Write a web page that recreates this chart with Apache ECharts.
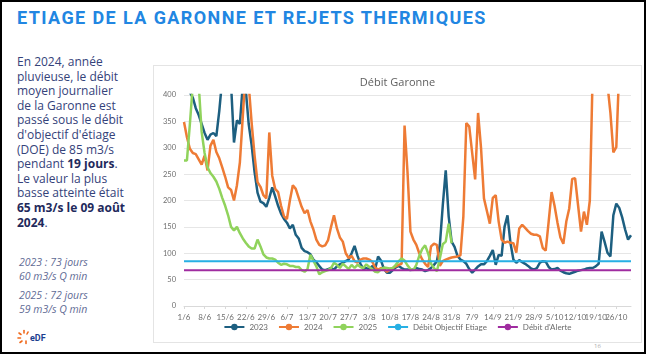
<!DOCTYPE html>
<html>
<head>
<meta charset="utf-8">
<script src="https://cdn.jsdelivr.net/npm/echarts@6/dist/echarts.min.js"></script>
<style>
  html, body { margin: 0; padding: 0; background: #fff; }
  #page { position: relative; width: 646px; height: 354px; box-sizing: border-box; border: 2px solid #000; overflow: hidden; font-family: "Open Sans", sans-serif; }
  #titre { position: absolute; left: 15px; top: 5px; font-family: Roboto, sans-serif; font-weight: bold; font-size: 18px; letter-spacing: 1.4px; color: #2186e2; white-space: nowrap; }
  #texte { position: absolute; left: 15px; top: 53px; font-size: 12px; line-height: 14.6px; color: #34427a; white-space: nowrap; }
  #texte b { color: #1f2a5c; }
  #notes { position: absolute; left: 17px; top: 254px; font-size: 10.5px; line-height: 13.5px; font-style: italic; color: #5f6b95; }
  #notes p { margin: 0 0 6px 0; }
  #logo { position: absolute; left: 15px; top: 327px; }
  #num { position: absolute; left: 592px; top: 340px; font-size: 6px; color: #aaa; }
  #chart { position: absolute; left: 151px; top: 63px; width: 489px; height: 278px; box-sizing: border-box; border: 1px solid #e4e4e4; }
</style>
</head>
<body>
<div id="page">
  <div id="titre">ETIAGE DE LA GARONNE ET REJETS THERMIQUES</div>
  <div id="texte">En 2024, année<br>pluvieuse, le débit<br>moyen journalier<br>de la Garonne est<br>passé sous le débit<br>d'objectif d'étiage<br>(DOE) de 85 m3/s<br>pendant <b>19 jours</b>.<br>Le valeur la plus<br>basse atteinte était<br><b>65 m3/s le 09 août</b><br><b>2024</b>.</div>
  <div id="notes">
    <p>2023 : 73 jours<br>60 m3/s Q min</p>
    <p>2025 : 72 jours<br>59 m3/s Q min</p>
  </div>
  <svg id="logo" width="40" height="16" viewBox="0 0 40 16">
    <g stroke="#f06a1d" stroke-width="1.6" stroke-linecap="round">
      <line x1="7" y1="1.5" x2="7" y2="4"/>
      <line x1="2" y1="4" x2="4" y2="5.5"/>
      <line x1="1" y1="9" x2="3.5" y2="9"/>
      <line x1="3" y1="13.5" x2="5" y2="12"/>
      <line x1="9" y1="14.5" x2="9" y2="12"/>
      <line x1="11" y1="3" x2="10" y2="5"/>
    </g>
    <text x="13" y="12" font-family="Roboto, sans-serif" font-weight="bold" font-size="9" fill="#1b3f8f">eDF</text>
  </svg>
  <div id="num">16</div>
  <div id="chart"></div>
</div>
<script>
// dates du 1/6 au 31/10
var mois = [[6, 30], [7, 31], [8, 31], [9, 30], [10, 31]];
var categories = [];
for (var m = 0; m < mois.length; m++) {
  for (var d = 1; d <= mois[m][1]; d++) {
    categories.push(d + '/' + mois[m][0]);
  }
}

var serie2023 = [480,440,405,395,375,362,345,328,315,325,328,322,370,430,470,460,420,310,352,345,
  420,410,345,305,254,215,198,195,188,205,225,208,190,175,165,158,147,154,135,128,
  110,104,102,98,88,83,76,69,68,70,72,69,75,79,82,85,88,100,114,95,
  80,70,72,69,76,70,94,86,70,63,63,68,73,76,72,69,69,68,69,72,
  70,69,66,68,72,78,85,116,191,257,170,122,112,95,88,85,80,70,63,69,
  75,79,79,85,95,106,78,97,95,150,172,120,88,82,87,83,80,76,71,69,
  72,82,85,84,74,69,70,72,67,64,62,61,63,65,67,68,69,71,72,72,
  75,80,141,122,101,94,172,194,186,168,145,126,134];

var serie2024 = [349,320,298,290,288,278,268,285,257,304,315,292,280,263,245,225,220,200,229,272,
  360,450,420,347,285,235,226,210,204,329,247,222,216,190,170,165,200,229,222,205,
  188,176,182,160,145,126,116,113,115,125,150,172,147,130,122,100,91,95,85,82,
  88,90,90,88,84,73,69,72,70,65,70,72,75,78,80,342,254,141,126,116,
  100,88,80,74,113,118,116,76,85,88,90,92,93,94,96,170,347,340,290,240,
  366,300,204,180,156,205,210,160,126,120,122,120,119,101,147,154,148,142,137,135,
  135,132,110,105,160,216,190,158,130,118,160,185,241,242,191,141,179,154,200,450,
  500,520,480,450,420,366,291,301,450,550,600,620,640];

var serie2025 = [276,276,345,420,450,420,330,290,263,252,245,236,222,205,190,172,150,143,150,138,
  128,120,113,109,109,126,113,98,92,90,90,88,82,78,80,79,76,76,74,74,
  68,65,70,97,86,75,60,64,66,68,72,82,78,72,80,75,70,78,72,78,
  74,72,79,74,70,65,64,70,73,72,71,72,78,85,90,86,77,70,68,78,
  95,108,115,100,80,72,66,90,117,122,156,119];

var debitObjectif = 85;
var debitAlerte = 68;
var yTicks = { min: 0, max: 400, interval: 50 };

var myChart = echarts.init(document.getElementById('chart'));

function ligne(nom, couleur, data, largeur) {
  return {
    name: nom,
    type: 'line',
    data: data,
    symbol: 'none',
    smooth: false,
    lineStyle: { color: couleur, width: largeur },
    itemStyle: { color: couleur }
  };
}

// une étiquette par semaine
function chaqueSemaine(index) {
  return index % 7 === 0;
}

var option = {
  animation: false,
  title: {
    text: 'Débit Garonne',
    left: 'center',
    top: 6,
    textStyle: { fontFamily: 'Open Sans', fontSize: 11, fontWeight: 'normal', color: '#606060' }
  },
  grid: { left: 30, right: 10, top: 29, bottom: 36 },
  legend: {
    bottom: 6,
    left: 'center',
    itemWidth: 20,
    itemHeight: 8,
    itemGap: 10,
    textStyle: { fontFamily: 'Lato', fontSize: 8, color: '#6b6b6b' },
    data: ['2023', '2024', '2025', 'Débit Objectif Etiage', "Débit d'Alerte"]
  },
  xAxis: {
    type: 'category',
    data: categories,
    boundaryGap: false,
    axisLine: { lineStyle: { color: '#d9d9d9' } },
    axisTick: { interval: chaqueSemaine, length: 3, lineStyle: { color: '#d9d9d9' } },
    axisLabel: {
      interval: 0,
      hideOverlap: false,
      formatter: function (valeur, index) { return chaqueSemaine(index) ? valeur : ''; },
      fontFamily: 'Lato', fontSize: 8, color: '#6e6e6e', margin: 7
    }
  },
  yAxis: {
    type: 'value',
    min: yTicks.min,
    max: yTicks.max,
    interval: yTicks.interval,
    axisLine: { show: false },
    axisTick: { show: false },
    axisLabel: { fontFamily: 'Lato', fontSize: 7.5, color: '#6e6e6e', margin: 8 },
    splitLine: { lineStyle: { color: '#e6e6e6' } }
  },
  series: [
    ligne('2023', '#1d5f80', serie2023, 2.5),
    ligne('2024', '#ee7b35', serie2024, 2.5),
    ligne('2025', '#90d35c', serie2025, 2.5),
    ligne('Débit Objectif Etiage', '#27b0e4', categories.map(function () { return debitObjectif; }), 2),
    ligne("Débit d'Alerte", '#a02ca0', categories.map(function () { return debitAlerte; }), 2)
  ]
};
myChart.setOption(option);
</script>
</body>
</html>
